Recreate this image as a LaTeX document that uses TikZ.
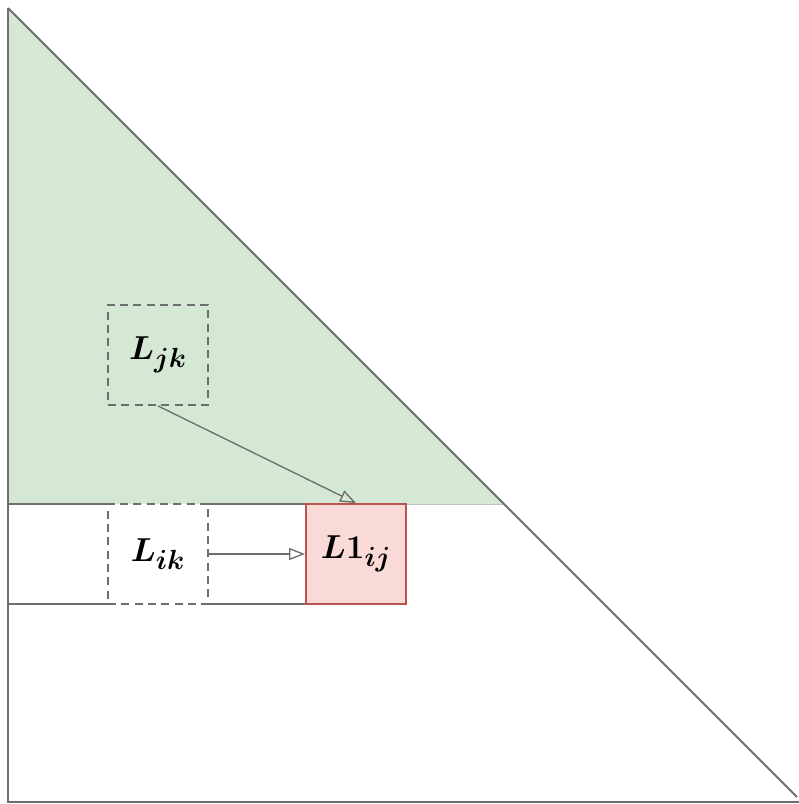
\documentclass[tikz,border=0pt]{standalone}
\usepackage{amsmath,bm}
\usetikzlibrary{arrows.meta}
\definecolor{gfill}{HTML}{D5E8D4}
\definecolor{rfill}{HTML}{F9DAD6}
\definecolor{rline}{HTML}{B85450}
\definecolor{gline}{HTML}{6E6E6E}
\tikzset{
  edge/.style={draw=gline, line width=1.4pt},
  dbox/.style={draw=gline, dashed, dash pattern=on 6pt off 4pt, line width=1.4pt, minimum width=75pt, minimum height=75pt, inner sep=0pt},
  rbox/.style={draw=rline, fill=rfill, line width=1.4pt, minimum width=75pt, minimum height=75pt, inner sep=0pt},
  conn/.style={draw=gline, line width=1pt, -{Triangle[open, length=12pt, width=9pt]}},
  lab/.style={font=\fontsize{29}{32}\selectfont}
}
\begin{document}
\begin{tikzpicture}[x=0.75pt, y=-0.75pt]
\useasboundingbox (0,0) rectangle (799,804);
% green triangle
\fill[gfill] (8,8) -- (8,504) -- (504,504) -- cycle;
\draw[draw=gfill!70!gray, line width=0.6pt] (208,504) -- (504,504);
% row rectangle (interrupted by the dashed box)
\draw[edge] (108,504) -- (8,504) -- (8,604) -- (108,604);
\draw[edge] (208,504) -- (306,504);
\draw[edge] (208,604) -- (306,604);
% big triangle
\draw[edge] (8,8) -- (8,802) -- (799,802);
\draw[edge] (8,8) -- (797,797);
% nodes
\node[dbox] (ljk) at (158,355) {};
\node[lab] at (158,355) {$\bm{L_{jk}}$};
\node[dbox, fill=white] (lik) at (158,554) {};
\node[lab] at (158,554) {$\bm{L_{ik}}$};
\node[rbox] (l1) at (356,554) {};
\node[lab] at (356,554) {$\bm{L1_{ij}}$};
% connectors
\draw[conn] (ljk.south) -- (l1.north);
\draw[conn] (lik.east) -- (l1.west);
\end{tikzpicture}
\end{document}
